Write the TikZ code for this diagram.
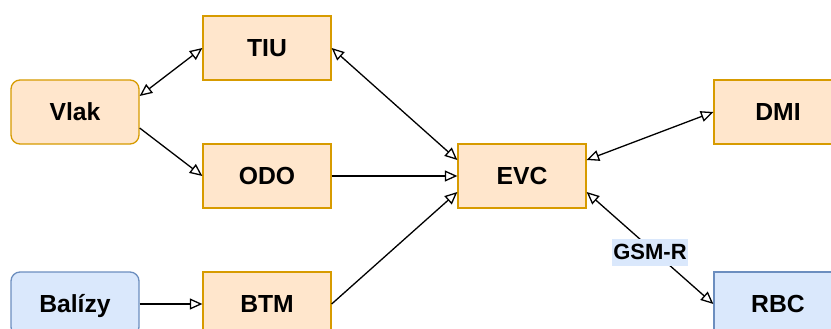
\documentclass[tikz,border=0pt]{standalone}
\usepackage{fontspec}
\setmainfont{Liberation Sans}
\usetikzlibrary{arrows.meta}
\definecolor{orangefill}{HTML}{FFE6CC}
\definecolor{orangeline}{HTML}{D79B00}
\definecolor{bluefill}{HTML}{DAE8FC}
\definecolor{blueline}{HTML}{6C8EBF}
\tikzset{
  unit/.style={draw=orangeline, fill=orangefill, line width=1.3pt,
    minimum width=128pt, minimum height=64pt, inner sep=0pt,
    font=\fontsize{24.7}{28}\selectfont\bfseries, text height=17.6pt, text depth=0pt},
  outer/.style={unit, rounded corners=9pt},
  bluebox/.style={draw=blueline, fill=bluefill},
  tip/.tip={Triangle[open, length=12.5pt, width=11pt, line width=1.3pt]},
  link/.style={line width=1.3pt, -tip},
  duplex/.style={line width=1.3pt, tip-tip},
  tag/.style={fill=bluefill, inner xsep=1.5pt, inner ysep=0pt, minimum height=27pt,
    font=\fontsize{22}{26}\selectfont\bfseries, text height=15.8pt, text depth=0pt}
}
\begin{document}
\begin{tikzpicture}[x=1pt, y=-1pt]
  \clip (0,0) rectangle (831,329);
  \fill[white] (0,0) rectangle (831,329);

  % on-board units
  \node[outer] (vlak) at (75,112) {Vlak};
  \node[outer, bluebox] (balizy) at (75,304) {Balízy};
  \node[unit] (tiu) at (267,48) {TIU};
  \node[unit] (odo) at (267,176) {ODO};
  \node[unit] (btm) at (267,304) {BTM};
  \node[unit] (evc) at (522,176) {EVC};
  \node[unit] (dmi) at (778,112) {DMI};
  \node[unit, bluebox] (rbc) at (778,304) {RBC};

  % connections
  \draw[duplex] ([yshift=16pt]vlak.east) -- (tiu.west);
  \draw[link] ([yshift=-16pt]vlak.east) -- (odo.west);
  \draw[link] (balizy.east) -- (btm.west);
  \draw[duplex] (tiu.east) -- ([yshift=16pt]evc.west);
  \draw[link] (odo.east) -- (evc.west);
  \draw[link] (btm.east) -- ([yshift=-16pt]evc.west);
  \draw[duplex] ([yshift=16pt]evc.east) -- (dmi.west);
  \draw[duplex] ([yshift=-16pt]evc.east) -- (rbc.west)
    node[tag, pos=0.5, yshift=-4pt] (gsmr) {GSM-R};
\end{tikzpicture}
\end{document}
